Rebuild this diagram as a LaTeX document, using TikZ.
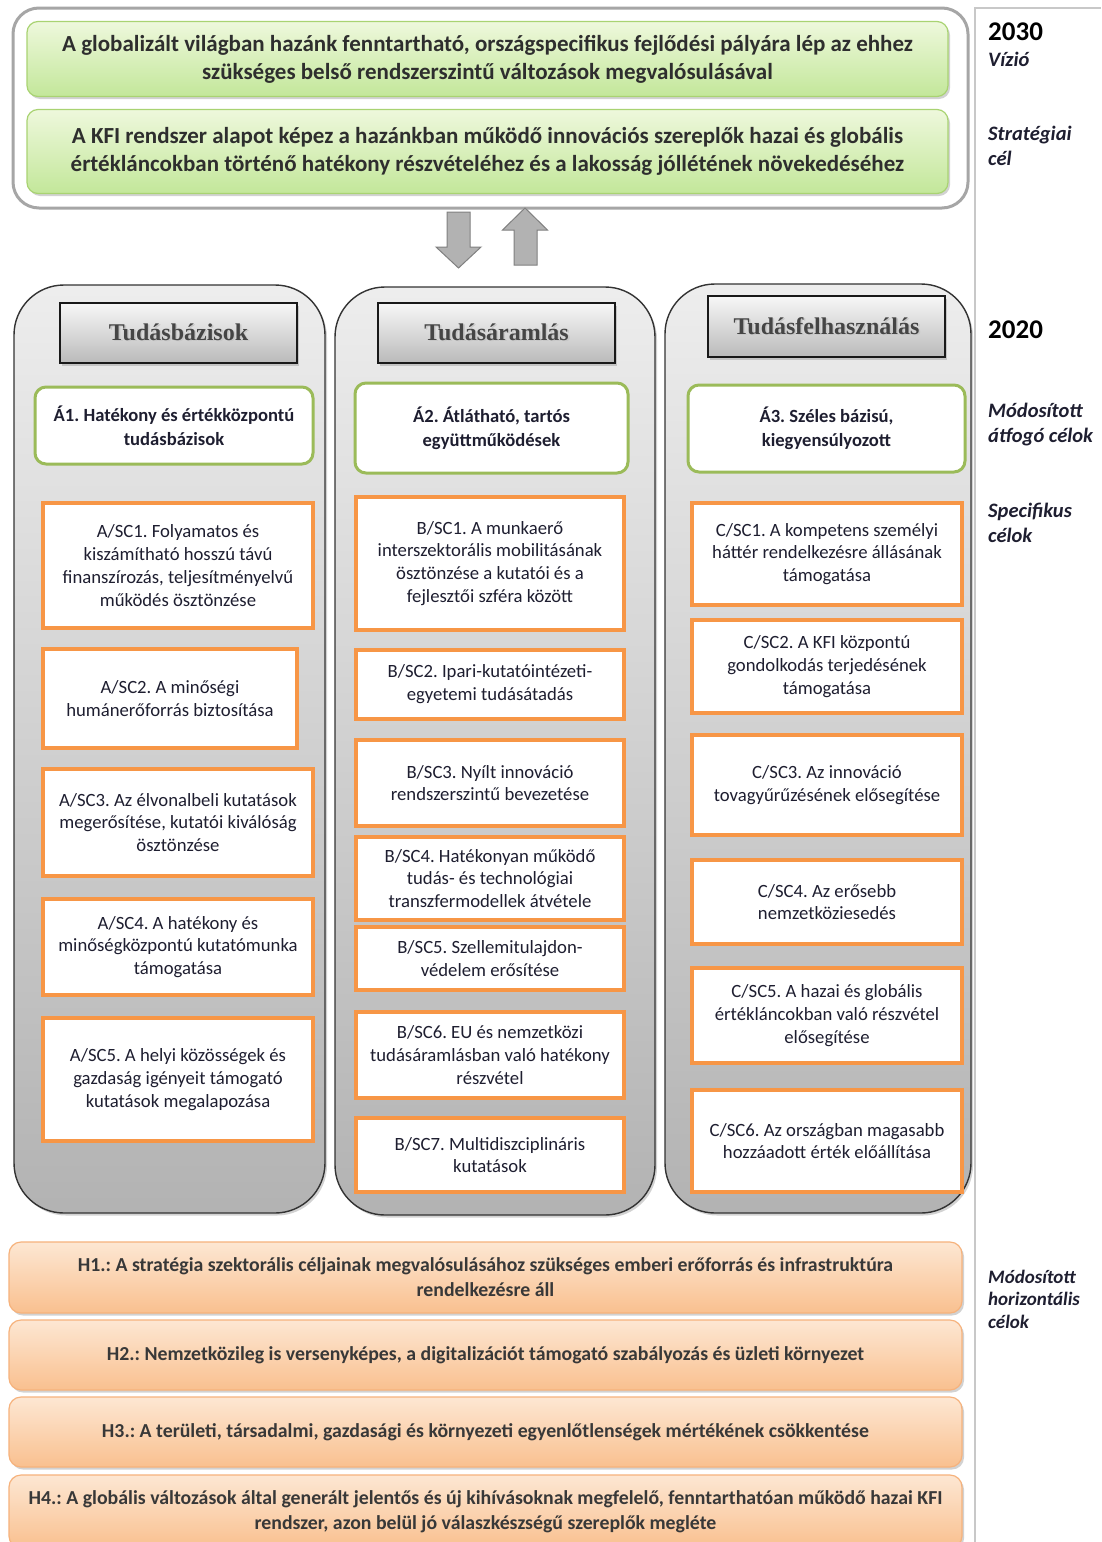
\documentclass[tikz,border=0pt]{standalone}
\usepackage{fontspec}
\setmainfont{Carlito}
\newfontfamily\hdrfont{Liberation Serif}
\usetikzlibrary{shadows}
\frenchspacing
\definecolor{oborder}{HTML}{F79646}
\definecolor{gborder}{HTML}{9BBB59}
\definecolor{txt}{HTML}{1E1E30}
\definecolor{hdrtxt}{HTML}{454545}
\definecolor{sep}{HTML}{C8C8C8}
\definecolor{gtop}{HTML}{EEF8DC}
\definecolor{gbot}{HTML}{C3E79A}
\definecolor{gline}{HTML}{A9D372}
\definecolor{htop}{HTML}{FDE7D3}
\definecolor{hbot}{HTML}{F9C08F}
\definecolor{hline}{HTML}{F6B27C}
\newcommand\shadowtxt[1]{\makebox[0pt][l]{\hspace{1.6pt}\raisebox{-1.6pt}{\textcolor{black!22}{#1}}}#1}
\tikzset{
  shd/.style={drop shadow={shadow xshift=2pt,shadow yshift=-2.5pt,opacity=0.35}},
  outerbox/.style={draw=black!35,line width=3pt,rounded corners=26pt,fill=white},
  topgreen/.style={draw=gline,line width=1.2pt,rounded corners=11pt,top color=gtop,bottom color=gbot,shd,align=center,text=black!82,font=\bfseries\fontsize{23}{28}\selectfont},
  colbox/.style={draw=black!80,line width=1.4pt,rounded corners=50pt,top color=black!7,bottom color=black!30,shd},
  hdrbox/.style={draw=black!90,line width=1.4pt,top color=black!3,bottom color=black!27,shd,minimum width=237pt,font=\hdrfont\bfseries\fontsize{24}{28}\selectfont,text=hdrtxt},
  abox/.style={draw=gborder,line width=3pt,rounded corners=11pt,fill=white,align=center,text=txt,font=\bfseries\fontsize{18.6}{24}\selectfont},
  obox/.style={draw=oborder,line width=4pt,fill=white,align=center,text=txt,font=\fontsize{18.7}{22.8}\selectfont},
  hbox/.style={draw=hline,line width=1.2pt,rounded corners=12pt,top color=htop,bottom color=hbot,shd,align=center,text=black!78,minimum width=953pt,font=\bfseries\fontsize{19.8}{25}\selectfont},
  blockarrow/.style={fill=black!30,draw=black!50,line width=1pt},
  sidelbl/.style={anchor=base west,inner sep=0pt,text=txt,font=\bfseries\itshape\fontsize{20.5}{24}\selectfont},
  yearlbl/.style={anchor=base west,inner sep=0pt,text=black,font=\bfseries\fontsize{27}{30}\selectfont}
}
\begin{document}
\begin{tikzpicture}[x=1pt,y=-1pt]
\useasboundingbox (0,0) rectangle (1101,1542);
\fill[white] (0,0) rectangle (1101,1542);

% right separator
\draw[sep,line width=1.5pt] (975,1542) -- (975,8) -- (1101,8);
\node[yearlbl] (y2030) at (988,40) {2030};
\node[sidelbl] (vizio) at (988,66) {Vízió};
\node[sidelbl] (strat1) at (988,140) {Stratégiai};
\node[sidelbl] (strat2) at (988,165) {cél};
\node[yearlbl] (y2020) at (988,338) {2020};
\node[sidelbl] (atf1) at (988,417) {Módosított};
\node[sidelbl] (atf2) at (988,442) {átfogó célok};
\node[sidelbl] (spec1) at (988,517) {Specifikus};
\node[sidelbl] (spec2) at (988,542) {célok};
\node[sidelbl,font=\bfseries\itshape\fontsize{19}{22}\selectfont] (hor1) at (988,1283) {Módosított};
\node[sidelbl,font=\bfseries\itshape\fontsize{19}{22}\selectfont] (hor2) at (988,1305) {horizontális};
\node[sidelbl,font=\bfseries\itshape\fontsize{19}{22}\selectfont] (hor3) at (988,1328) {célok};

% top block
\node[outerbox,minimum width=955pt,minimum height=200pt] (outer) at (490.5,108) {};
\node[topgreen,minimum width=921pt,minimum height=75pt] (vision) at (487.5,59)
  {A globalizált világban hazánk fenntartható, országspecifikus fejlődési pályára lép az ehhez\\ szükséges belső rendszerszintű változások megvalósulásával};
\node[topgreen,minimum width=921pt,minimum height=84pt] (goal) at (487.5,151.5)
  {A KFI rendszer alapot képez a hazánkban működő innovációs szereplők hazai és globális\\ értékláncokban történő hatékony részvételéhez és a lakosság jóllétének növekedéséhez};

% block arrows
\draw[blockarrow] (447,212) -- (470,212) -- (470,247) -- (481,247) -- (458.5,268) -- (436,247) -- (447,247) -- cycle;
\draw[blockarrow] (525,208) -- (547.5,230) -- (537,230) -- (537,265) -- (514,265) -- (514,230) -- (502.5,230) -- cycle;

% columns
\node[colbox,minimum width=311pt,minimum height=928pt] (colA) at (169.5,749) {};
\node[colbox,minimum width=320pt,minimum height=928pt] (colB) at (495,751) {};
\node[colbox,minimum width=306pt,minimum height=929pt] (colC) at (818,748.5) {};

% headers
\node[hdrbox,minimum height=60pt] (hA) at (178.5,333) {\shadowtxt{Tudásbázisok}};
\node[hdrbox,minimum height=60pt] (hB) at (496.5,333) {\shadowtxt{Tudásáramlás}};
\node[hdrbox,minimum height=61pt] (hC) at (826.5,326.5) {\shadowtxt{Tudásfelhasználás}};

% overarching goals
\node[abox,minimum width=278pt,minimum height=77pt] (a1) at (174,425.5) {Á1. Hatékony és értékközpontú\\ tudásbázisok};
\node[abox,minimum width=273pt,minimum height=90pt] (a2) at (491.5,428) {Á2. Átlátható, tartós\\ együttműködések};
\node[abox,minimum width=277pt,minimum height=87pt] (a3) at (826.5,428.5) {Á3. Széles bázisú,\\ kiegyensúlyozott};

% column A
\node[obox,minimum width=270pt,minimum height=125pt] (asc1) at (178,565.5) {A/SC1. Folyamatos és\\ kiszámítható hosszú távú\\ finanszírozás, teljesítményelvű\\ működés ösztönzése};
\node[obox,minimum width=254pt,minimum height=99pt] (asc2) at (170,698.5) {A/SC2. A minőségi\\ humánerőforrás biztosítása};
\node[obox,minimum width=270pt,minimum height=107pt] (asc3) at (178,822.5) {A/SC3. Az élvonalbeli kutatások\\ megerősítése, kutatói kiválóság\\ ösztönzése};
\node[obox,minimum width=270pt,minimum height=96pt] (asc4) at (178,947) {A/SC4. A hatékony és\\ minőségközpontú kutatómunka\\ támogatása};
\node[obox,minimum width=270pt,minimum height=123pt] (asc5) at (178,1079.5) {A/SC5. A helyi közösségek és\\ gazdaság igényeit támogató\\ kutatások megalapozása};

% column B
\node[obox,minimum width=268pt,minimum height=133pt] (bsc1) at (490,563.5) {B/SC1. A munkaerő\\ interszektorális mobilitásának\\ ösztönzése a kutatói és a\\ fejlesztői szféra között};
\node[obox,minimum width=268pt,minimum height=69pt] (bsc2) at (490,684.5) {B/SC2. Ipari-kutatóintézeti-\\ egyetemi tudásátadás};
\node[obox,minimum width=268pt,minimum height=86pt] (bsc3) at (490,783) {B/SC3. Nyílt innováció\\ rendszerszintű bevezetése};
\node[obox,minimum width=268pt,minimum height=83pt] (bsc4) at (490,878.5) {B/SC4. Hatékonyan működő\\ tudás- és technológiai\\ transzfermodellek átvétele};
\node[obox,minimum width=268pt,minimum height=63pt] (bsc5) at (490,958.5) {B/SC5. Szellemitulajdon-\\ védelem erősítése};
\node[obox,minimum width=268pt,minimum height=86pt] (bsc6) at (490,1055) {B/SC6. EU és nemzetközi\\ tudásáramlásban való hatékony\\ részvétel};
\node[obox,minimum width=268pt,minimum height=74pt] (bsc7) at (490,1155) {B/SC7. Multidiszciplináris\\ kutatások};

% column C
\node[obox,minimum width=270pt,minimum height=102pt] (csc1) at (827,554) {C/SC1. A kompetens személyi\\ háttér rendelkezésre állásának\\ támogatása};
\node[obox,minimum width=270pt,minimum height=93pt] (csc2) at (827,666.5) {C/SC2. A KFI központú\\ gondolkodás terjedésének\\ támogatása};
\node[obox,minimum width=270pt,minimum height=100pt] (csc3) at (827,785) {C/SC3. Az innováció\\ tovagyűrűzésének elősegítése};
\node[obox,minimum width=270pt,minimum height=84pt] (csc4) at (827,902) {C/SC4. Az erősebb\\ nemzetköziesedés};
\node[obox,minimum width=270pt,minimum height=95pt] (csc5) at (827,1015.5) {C/SC5. A hazai és globális\\ értékláncokban való részvétel\\ elősegítése};
\node[obox,minimum width=270pt,minimum height=102pt] (csc6) at (827,1141) {C/SC6. Az országban magasabb\\ hozzáadott érték előállítása};

% horizontal goals
\node[hbox,minimum height=71pt] (h1) at (485.5,1277.5) {H1.: A stratégia szektorális céljainak megvalósulásához szükséges emberi erőforrás és infrastruktúra\\ rendelkezésre áll};
\node[hbox,minimum height=70pt] (h2) at (485.5,1355) {H2.: Nemzetközileg is versenyképes, a digitalizációt támogató szabályozás és üzleti környezet};
\node[hbox,minimum height=70pt] (h3) at (485.5,1432) {H3.: A területi, társadalmi, gazdasági és környezeti egyenlőtlenségek mértékének csökkentése};
\node[hbox,minimum height=73pt] (h4) at (485.5,1511.5) {H4.: A globális változások által generált jelentős és új kihívásoknak megfelelő, fenntarthatóan működő hazai KFI\\ rendszer, azon belül jó válaszkészségű szereplők megléte};
\end{tikzpicture}
\end{document}
